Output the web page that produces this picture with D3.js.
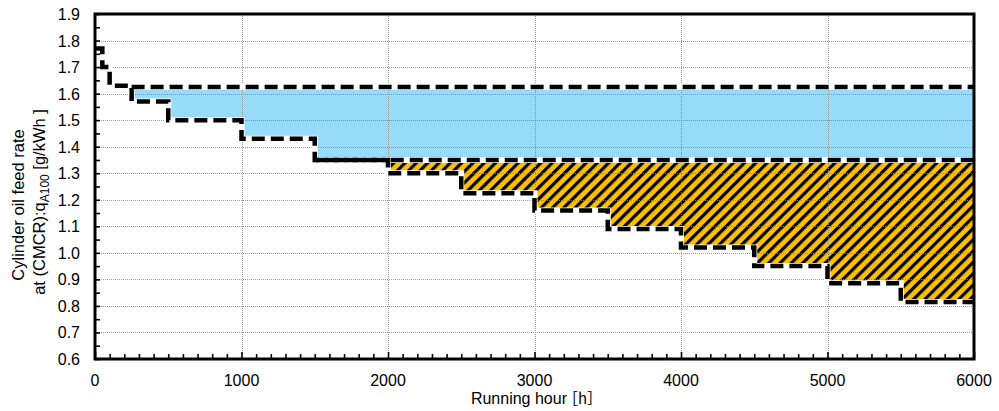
<!DOCTYPE html>
<html>
<head>
<meta charset="utf-8">
<script src="https://cdn.jsdelivr.net/npm/d3@7"></script>
<style>
  html, body { margin: 0; padding: 0; background: #fff; }
  svg { display: block; }
  text { font-family: "Liberation Sans", Arial, sans-serif; fill: #000; }
</style>
</head>
<body>
<svg id="chart" width="999" height="411"></svg>
<script>
// Feed-rate reduction schedule (step after each running-hour breakpoint)
const stepHours = [0, 50, 100, 250, 500, 1000, 1500, 2000, 2500, 3000, 3500, 4000, 4500, 5000, 5500, 6000];
const stepRates = [1.77, 1.70, 1.63, 1.57, 1.50, 1.43, 1.35, 1.30, 1.225, 1.16, 1.09, 1.02, 0.95, 0.885, 0.815, 0.815];

// Reference levels
const upperRate = 1.625, upperStart = 250;
const middleRate = 1.35, middleStart = 1500;
const hatchStart = 2000;

// Axis ticks
const xTicks = [0, 1000, 2000, 3000, 4000, 5000, 6000];
const yTicks = [0.6, 0.7, 0.8, 0.9, 1.0, 1.1, 1.2, 1.3, 1.4, 1.5, 1.6, 1.7, 1.8, 1.9];

const xTitleMain = "Running hour";
const xTitleUnit = "［h］";
const yTitle1 = "Cylinder oil feed rate";

const margin = { left: 95, right: 25, top: 14, bottom: 52 };
const W = 999, H = 411;
const svg = d3.select("#chart");

const x = d3.scaleLinear().domain([0, 6000]).range([margin.left, W - margin.right]);
const y = d3.scaleLinear().domain([0.6, 1.9]).range([H - margin.bottom, margin.top]);

const steps = stepHours.map((h, i) => ({ h, r: stepRates[i] }));

// Patterns
const defs = svg.append("defs");
const blue = defs.append("pattern").attr("id", "blueTex")
  .attr("width", 2).attr("height", 2).attr("patternUnits", "userSpaceOnUse");
blue.append("rect").attr("width", 2).attr("height", 2).attr("fill", "#a5def6");
blue.append("rect").attr("width", 1).attr("height", 1).attr("fill", "#8fd3f0");
blue.append("rect").attr("x", 1).attr("y", 1).attr("width", 1).attr("height", 1).attr("fill", "#97d7f2");

const hatch = defs.append("pattern").attr("id", "hatch")
  .attr("width", 8).attr("height", 8).attr("patternUnits", "userSpaceOnUse")
  .attr("patternTransform", "rotate(45)");
hatch.append("rect").attr("width", 8).attr("height", 8).attr("fill", "#ffc000");
hatch.append("rect").attr("width", 3.2).attr("height", 8).attr("fill", "#000");

// Fill areas
const blueSteps = steps.filter(d => d.h >= upperStart);
const blueArea = d3.area()
  .x(d => x(d.h))
  .y0(d => y(Math.max(d.r, middleRate)))
  .y1(y(upperRate))
  .curve(d3.curveStepAfter);
svg.append("path").datum(blueSteps).attr("d", blueArea).attr("fill", "url(#blueTex)");

const hatchSteps = steps.filter(d => d.h >= hatchStart);
const hatchArea = d3.area()
  .x(d => x(d.h))
  .y0(d => y(d.r))
  .y1(y(middleRate))
  .curve(d3.curveStepAfter);
svg.append("path").datum(hatchSteps).attr("d", hatchArea).attr("fill", "url(#hatch)");

// Grid lines
const grid = svg.append("g").attr("stroke", "#8a8a8a").attr("stroke-width", 1)
  .attr("stroke-dasharray", "1,1").attr("opacity", 0.85);
grid.selectAll("line.h").data(yTicks.slice(1, -1)).join("line")
  .attr("x1", x(0)).attr("x2", x(6000))
  .attr("y1", d => Math.round(y(d)) + 0.5).attr("y2", d => Math.round(y(d)) + 0.5);
grid.selectAll("line.v").data(xTicks.slice(1, -1)).join("line")
  .attr("y1", y(0.6)).attr("y2", y(1.9))
  .attr("x1", d => Math.round(x(d)) + 0.5).attr("x2", d => Math.round(x(d)) + 0.5);

// Dashed boundary lines, each over a white underlay
const lineGen = d3.line().x(d => x(d.h)).y(d => y(d.r)).curve(d3.curveStepAfter);
const paths = [
  steps,
  [{ h: upperStart, r: upperRate }, { h: 6000, r: upperRate }],
  [{ h: middleStart, r: middleRate }, { h: 6000, r: middleRate }]
];
paths.forEach(p => {
  svg.append("path").datum(p).attr("d", lineGen)
    .attr("fill", "none").attr("stroke", "#fff").attr("stroke-width", 6);
});
paths.forEach(p => {
  svg.append("path").datum(p).attr("d", lineGen)
    .attr("fill", "none").attr("stroke", "#000").attr("stroke-width", 4.5)
    .attr("stroke-dasharray", "13,6");
});

// Axes with inward ticks
const xAxis = svg.append("g").attr("transform", `translate(0,${y(0.6)})`);
xAxis.call(d3.axisBottom(x).tickValues(d3.range(0, 6001, 100)).tickSize(-5).tickFormat(""))
  .call(g => g.select(".domain").remove())
  .call(g => g.selectAll("line").attr("stroke-width", 1.6));
xAxis.call(g => g.selectAll(".tick").filter(d => d % 1000 === 0).select("line").attr("y2", -7));

const yAxis = svg.append("g").attr("transform", `translate(${x(0)},0)`);
yAxis.call(d3.axisLeft(y).tickValues(d3.range(0.6, 1.901, 0.05)).tickSize(-5).tickFormat(""))
  .call(g => g.select(".domain").remove())
  .call(g => g.selectAll("line").attr("stroke-width", 1.6));

// Tick labels
svg.append("g").selectAll("text").data(xTicks).join("text")
  .attr("x", d => x(d)).attr("y", 386).attr("text-anchor", "middle")
  .attr("font-size", 16).text(d => d);
svg.append("g").selectAll("text").data(yTicks).join("text")
  .attr("x", 80).attr("y", d => y(d) + 6).attr("text-anchor", "end")
  .attr("font-size", 16).text(d3.format(".1f"));

// Frame
svg.append("rect")
  .attr("x", x(0)).attr("y", y(1.9))
  .attr("width", x(6000) - x(0)).attr("height", y(0.6) - y(1.9))
  .attr("fill", "none").attr("stroke", "#000").attr("stroke-width", 3);

// Axis titles
const xt = svg.append("text").attr("x", (x(0) + x(6000)) / 2 + 2).attr("y", 404)
  .attr("text-anchor", "middle").attr("font-size", 16);
xt.append("tspan").text(xTitleMain);
xt.append("tspan").attr("dx", -4)
  .style("font-family", "'Noto Sans CJK JP', sans-serif").attr("font-size", 15)
  .text(xTitleUnit);

svg.append("text").attr("transform", "translate(24,205) rotate(-90)")
  .attr("text-anchor", "middle").attr("font-size", 16.5).text(yTitle1);

const t2 = svg.append("text").attr("transform", "translate(45,202) rotate(-90)")
  .attr("text-anchor", "middle").attr("font-size", 16.5);
t2.append("tspan").text("at (CMCR):q");
t2.append("tspan").attr("font-size", 12).attr("dy", 4).text("A100");
t2.append("tspan").attr("dy", -4).text(" [g/kWh ]");
</script>
</body>
</html>
